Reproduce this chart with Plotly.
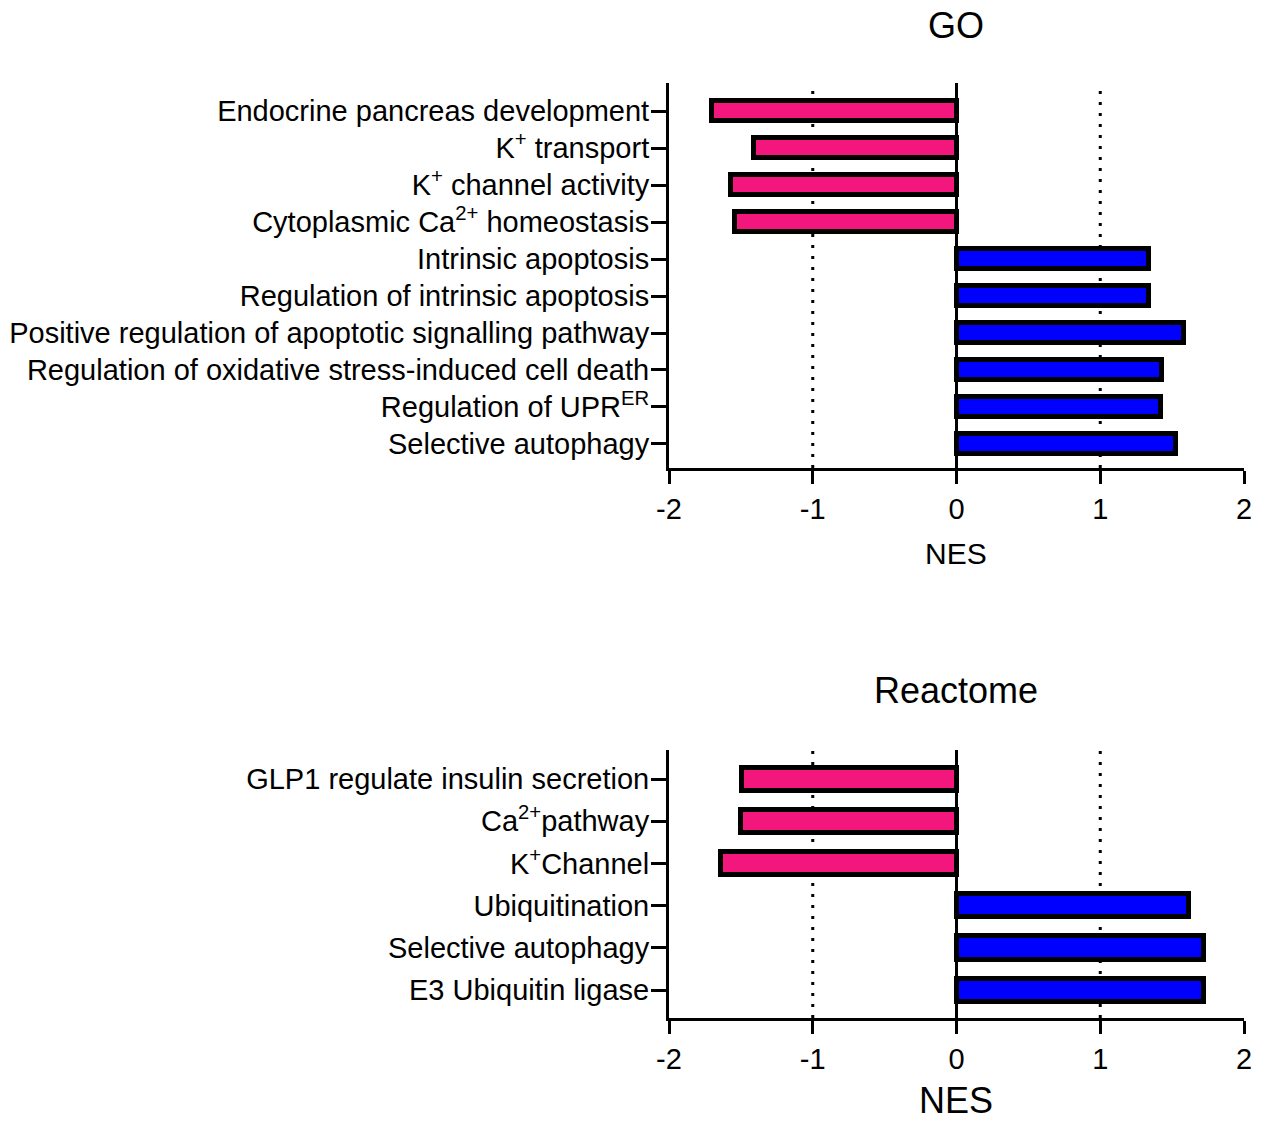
import plotly.graph_objects as go

# ---- data ----
go_terms = [
    "Endocrine pancreas development",
    "K<sup>+</sup> transport",
    "K<sup>+</sup> channel activity",
    "Cytoplasmic Ca<sup>2+</sup> homeostasis",
    "Intrinsic apoptosis",
    "Regulation of intrinsic apoptosis",
    "Positive regulation of apoptotic signalling pathway",
    "Regulation of oxidative stress-induced cell death",
    "Regulation of UPR<sup>ER</sup>",
    "Selective autophagy",
]
go_nes = [-1.70, -1.41, -1.57, -1.54, 1.34, 1.34, 1.58, 1.43, 1.42, 1.53]

reactome_terms = [
    "GLP1 regulate insulin secretion",
    "Ca<sup>2+</sup>pathway",
    "K<sup>+</sup>Channel",
    "Ubiquitination",
    "Selective autophagy",
    "E3 Ubiquitin ligase",
]
reactome_nes = [-1.49, -1.50, -1.64, 1.62, 1.72, 1.72]

x_ticks = [-2, -1, 0, 1, 2]

PINK = "#F2167D"
BLUE = "#0000FF"
FONT = "Liberation Sans, Arial, sans-serif"

def colors(vals):
    return [PINK if v < 0 else BLUE for v in vals]

fig = go.Figure()
fig.add_trace(go.Bar(
    x=go_nes, y=go_terms, orientation="h", width=0.55,
    marker=dict(color=colors(go_nes), line=dict(color="black", width=5)),
    xaxis="x", yaxis="y", showlegend=False,
))
fig.add_trace(go.Bar(
    x=reactome_nes, y=reactome_terms, orientation="h", width=0.55,
    marker=dict(color=colors(reactome_nes), line=dict(color="black", width=5)),
    xaxis="x2", yaxis="y2", showlegend=False,
))

W, H = 1266, 1122
xdom = [669 / W, 1244 / W]
top_dom = [1 - 468 / H, 1 - 83 / H]
bot_dom = [1 - 1018 / H, 1 - 750 / H]

xcommon = dict(
    range=[-2, 2], tickvals=x_ticks, ticktext=[str(t) for t in x_ticks],
    showline=True, linecolor="black", linewidth=3,
    ticks="outside", ticklen=13, tickwidth=3, tickcolor="black",
    showgrid=False, zeroline=True, zerolinecolor="black", zerolinewidth=3,
    tickfont=dict(size=29, color="black", family=FONT),
    domain=xdom, automargin=False,
)
ycommon = dict(
    type="category",
    showline=True, linecolor="black", linewidth=3,
    ticks="outside", ticklen=15, tickwidth=3, tickcolor="black",
    ticklabelstandoff=-4,
    showgrid=False, zeroline=False, automargin=False,
    tickfont=dict(size=29, color="black", family=FONT),
)

fig.update_layout(
    width=W, height=H, autosize=False,
    margin=dict(l=0, r=0, t=0, b=0, pad=0, autoexpand=False),
    paper_bgcolor="white", plot_bgcolor="white",
    font=dict(family=FONT, color="black"),
    bargap=0,
    xaxis=dict(**xcommon, anchor="y"),
    yaxis=dict(**ycommon, domain=top_dom, anchor="x",
               categoryorder="array", categoryarray=go_terms,
               range=[9.65, -0.76]),
    xaxis2=dict(**xcommon, anchor="y2"),
    yaxis2=dict(**ycommon, domain=bot_dom, anchor="x2",
                categoryorder="array", categoryarray=reactome_terms,
                range=[5.66, -0.69]),
)

# dotted reference lines at NES = -1 and 1
for xr, yr in [("x", "y domain"), ("x2", "y2 domain")]:
    for xv in (-1, 1):
        fig.add_shape(type="line", xref=xr, yref=yr, x0=xv, x1=xv, y0=0, y1=1,
                      line=dict(color="black", width=3, dash="3px,8px"),
                      layer="below")

# titles and axis labels
fig.add_annotation(text="GO", x=956 / W, y=1 - 25 / H, xref="paper", yref="paper",
                   showarrow=False, font=dict(size=36, color="black", family=FONT),
                   xanchor="center", yanchor="middle")
fig.add_annotation(text="Reactome", x=956 / W, y=1 - 690 / H, xref="paper", yref="paper",
                   showarrow=False, font=dict(size=36, color="black", family=FONT),
                   xanchor="center", yanchor="middle")
fig.add_annotation(text="NES", x=956 / W, y=1 - 553 / H, xref="paper", yref="paper",
                   showarrow=False, font=dict(size=30, color="black", family=FONT),
                   xanchor="center", yanchor="middle")
fig.add_annotation(text="NES", x=956 / W, y=1 - 1100 / H, xref="paper", yref="paper",
                   showarrow=False, font=dict(size=36, color="black", family=FONT),
                   xanchor="center", yanchor="middle")

fig.write_html("out.html", config={"displayModeBar": False, "responsive": False},
               post_script="document.body.style.margin='0';document.body.style.overflow='hidden';")
